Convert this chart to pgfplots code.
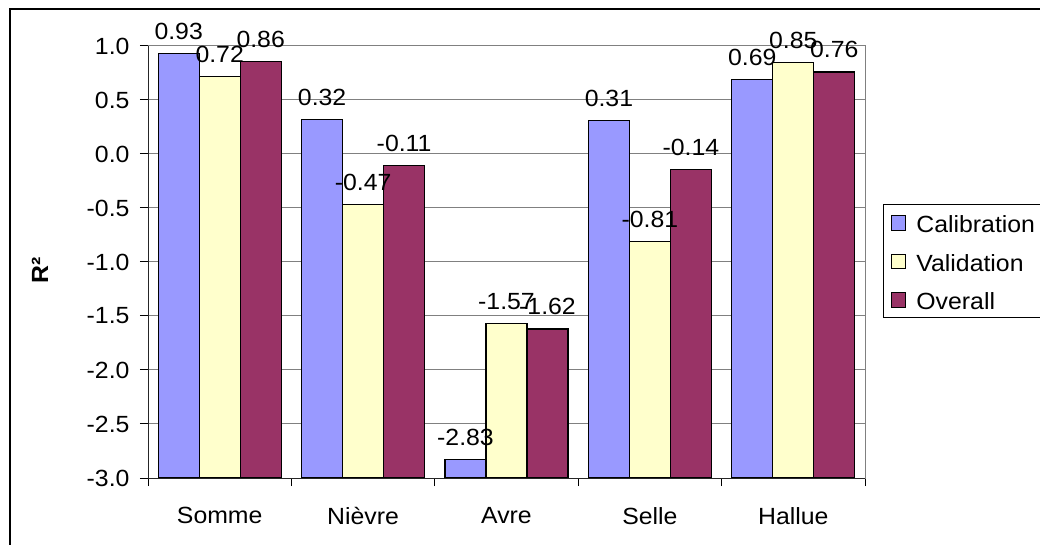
\documentclass[border=0pt]{standalone}
\usepackage{fontspec}
\setmainfont{Liberation Sans}[FakeStretch=1.06]
\usepackage{pgfplots}
\pgfplotsset{compat=1.18}
\definecolor{cal}{RGB}{153,153,255}
\definecolor{val}{RGB}{255,255,204}
\definecolor{ove}{RGB}{153,51,102}
\definecolor{gridgray}{RGB}{128,128,128}
\begin{document}
\begin{tikzpicture}[font=\fontsize{23.5}{27}\selectfont]
\useasboundingbox (0bp,0bp) rectangle (1040bp,545bp);
\draw[line width=1.5bp] (10bp,-20bp) -- (10bp,536bp) -- (1060bp,536bp);
\begin{axis}[
  at={(148bp,67bp)}, anchor=south west, scale only axis,
  width=717bp, height=432bp,
  ybar=0pt, bar width=41bp,
  xmin=-0.5, xmax=4.5, ymin=0, ymax=4,
  xtick={-0.5,0.5,1.5,2.5,3.5,4.5},
  x tick label as interval,
  xticklabels={Somme,Nièvre,Avre,Selle,Hallue},
  ytick={0,0.5,1,1.5,2,2.5,3,3.5,4},
  yticklabels={-3.0,-2.5,-2.0,-1.5,-1.0,-0.5,0.0,0.5,1.0},
  xtick pos=bottom, ytick pos=left,
  y filter/.expression={y+3},
  point meta=rawy,
  nodes near coords={\pgfmathprintnumber[fixed,fixed zerofill,precision=2,assume math mode=true]{\pgfplotspointmeta}},
  every node near coord/.append style={anchor=base, yshift=14bp, inner sep=0pt, font=\fontsize{23.5}{27}\selectfont, text=black},
  ymajorgrids, major grid style={gridgray, line width=1bp},
  tick align=outside, major tick length=8bp,
  tick style={black, line width=1bp},
  axis line style={gridgray, line width=1bp},
  yticklabel style={xshift=-7bp},
  xticklabel style={yshift=-18bp},
  clip=false,
  legend cell align=left,
  legend image code/.code={\draw[#1,draw=black,line width=1bp] (0bp,-7.5bp) rectangle (14bp,7bp);},
  legend style={at={(axis description cs:1.025,0.634)}, anchor=north west,
    draw=black, line width=1bp, inner xsep=8bp, inner ysep=8bp, row sep=18.5bp,
    nodes={inner sep=0pt, text height=20bp, text depth=0bp},
    font=\fontsize{23.5}{27}\selectfont,
    /tikz/every odd column/.append style={column sep=10bp}},
]
\addplot[fill=cal, draw=black, line width=1.2bp] coordinates {(0,0.93) (1,0.32) (2,-2.83) (3,0.31) (4,0.69)};
\addplot[fill=val, draw=black, line width=1.2bp] coordinates {(0,0.72) (1,-0.47) (2,-1.57) (3,-0.81) (4,0.85)};
\addplot[fill=ove, draw=black, line width=1.2bp] coordinates {(0,0.86) (1,-0.11) (2,-1.62) (3,-0.14) (4,0.76)};
\legend{Calibration,Validation,Overall}
\draw[black!85, line width=1bp] (rel axis cs:0,1) -- (rel axis cs:0,0) -- (rel axis cs:1,0);
\end{axis}
\node[rotate=90, font=\fontsize{23.5}{27}\selectfont\bfseries] at (40bp,275bp) {R²};
\end{tikzpicture}
\end{document}
